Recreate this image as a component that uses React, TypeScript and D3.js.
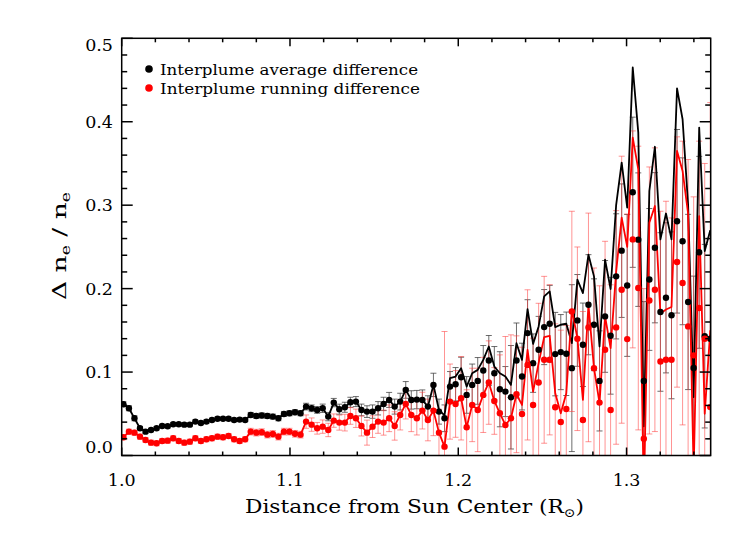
import React from 'react';
import * as d3 from 'd3';

// radial sampling grid (R_sun)
const X0 = 1.001;
const XSTEP = 0.00329;

const blackDot = [
  0.0615, 0.0566, 0.0446, 0.0326, 0.0286, 0.0306, 0.0326, 0.0354, 0.035, 0.0374,
  0.0374, 0.037, 0.037, 0.0406, 0.039, 0.0406, 0.0426, 0.044, 0.044, 0.044,
  0.0426, 0.043, 0.0426, 0.0486, 0.0474, 0.048, 0.0474, 0.0466, 0.0446, 0.0498,
  0.0506, 0.0518, 0.0506, 0.0586, 0.0566, 0.0546, 0.0566, 0.0466, 0.0634, 0.0555,
  0.0578, 0.0638, 0.0646, 0.0546, 0.0526, 0.0526, 0.0566, 0.0618, 0.0666, 0.0586,
  0.0646, 0.0786, 0.0666, 0.067, 0.0666, 0.0586, 0.0846, 0.0526, 0.0446, 0.0826,
  0.0854, 0.0938, 0.0726, 0.0846, 0.0894, 0.1018, 0.1138, 0.0986, 0.0794, 0.0766,
  0.0698, 0.1138, 0.0946, 0.1467, 0.1107, 0.1267, 0.1539, 0.1579, 0.1215, 0.1239,
  0.1219, 0.1047, 0.1619, 0.1327, 0.1807, 0.1567, 0.0894, 0.1667, 0.1435, 0.2147,
  0.2455, 0.2038, 0.3155, 0.2587, 0.0894, 0.211, 0.249, 0.172, 0.189, 0.168,
  0.2807, 0.2567, 0.184, 0.105, 0.2435, 0.143, 0.14,
];

const blackLine = [
  0.0615, 0.0566, 0.0446, 0.0326, 0.0286, 0.0306, 0.0326, 0.0354, 0.035, 0.0374,
  0.0374, 0.037, 0.037, 0.0406, 0.039, 0.0406, 0.0426, 0.044, 0.044, 0.044,
  0.0426, 0.043, 0.0426, 0.0486, 0.0474, 0.048, 0.0474, 0.0466, 0.0446, 0.0498,
  0.0506, 0.0518, 0.0506, 0.0586, 0.0566, 0.0546, 0.0566, 0.0466, 0.0634, 0.0555,
  0.0578, 0.0638, 0.0646, 0.0546, 0.0526, 0.0526, 0.0566, 0.0618, 0.0666, 0.0586,
  0.0646, 0.0786, 0.0666, 0.067, 0.0666, 0.0586, 0.0846, 0.0546, 0.048, 0.0926,
  0.0946, 0.1046, 0.0826, 0.0986, 0.1026, 0.1146, 0.1306, 0.1066, 0.0986, 0.0946,
  0.0846, 0.1346, 0.1146, 0.1755, 0.1338, 0.1547, 0.1907, 0.1967, 0.1539, 0.1567,
  0.1579, 0.1347, 0.2107, 0.1947, 0.2407, 0.2147, 0.1306, 0.2347, 0.1995, 0.30,
  0.351, 0.297, 0.465, 0.387, 0.035, 0.317, 0.37, 0.259, 0.29, 0.259,
  0.44, 0.403, 0.30, 0.07, 0.393, 0.245, 0.27,
];

const blackErr = [
  0.003, 0.003, 0.003, 0.002, 0.002, 0.002, 0.002, 0.002, 0.002, 0.002,
  0.002, 0.002, 0.002, 0.002, 0.002, 0.002, 0.002, 0.002, 0.002, 0.002,
  0.002, 0.002, 0.002, 0.003, 0.003, 0.003, 0.003, 0.003, 0.003, 0.003,
  0.003, 0.003, 0.003, 0.004, 0.004, 0.004, 0.005, 0.005, 0.005, 0.006,
  0.006, 0.006, 0.006, 0.007, 0.007, 0.008, 0.008, 0.008, 0.009, 0.009,
  0.010, 0.010, 0.011, 0.011, 0.012, 0.013, 0.014, 0.015, 0.016, 0.018,
  0.020, 0.024, 0.022, 0.025, 0.028, 0.030, 0.030, 0.032, 0.045, 0.030,
  0.062, 0.045, 0.040, 0.040, 0.035, 0.040, 0.045, 0.046, 0.050, 0.045,
  0.050, 0.100, 0.055, 0.050, 0.060, 0.055, 0.060, 0.067, 0.070, 0.075,
  0.080, 0.085, 0.090, 0.080, 0.095, 0.085, 0.090, 0.095, 0.090, 0.100,
  0.110, 0.100, 0.105, 0.110, 0.115, 0.110, 0.120,
];

const redDot = [
  0.0218, 0.0286, 0.0274, 0.0226, 0.0186, 0.0154, 0.0146, 0.0174, 0.0178, 0.0206,
  0.0174, 0.0154, 0.0166, 0.0206, 0.0174, 0.0194, 0.0206, 0.0226, 0.0218, 0.0234,
  0.0194, 0.0174, 0.0194, 0.0286, 0.0274, 0.028, 0.025, 0.0258, 0.0226, 0.0286,
  0.0286, 0.026, 0.025, 0.0406, 0.037, 0.0326, 0.0346, 0.0306, 0.0418, 0.0394,
  0.0394, 0.0474, 0.0446, 0.0354, 0.0274, 0.0346, 0.0406, 0.0394, 0.0446, 0.0354,
  0.0486, 0.0618, 0.0486, 0.0446, 0.0538, 0.0426, 0.0538, 0.0274, 0.0106, 0.0646,
  0.0618, 0.0686, 0.0338, 0.0606, 0.0546, 0.0726, 0.0874, 0.0654, 0.0506, 0.0366,
  0.0446, 0.0734, 0.0498, 0.1086, 0.0606, 0.0874, 0.1147, 0.1147, 0.0578, 0.0402,
  0.0558, 0.1727, 0.1399, 0.0426, 0.1535, 0.1047, 0.0634, 0.1267, 0.0546, 0.1535,
  0.1987, 0.1395, 0.259, 0.2007, 0.02, 0.1858, 0.1987, 0.1127, 0.1147, 0.1147,
  0.2319, 0.2067, 0.1547, 0.12, 0.1767, 0.14, 0.058,
];

const redLine = [
  0.0218, 0.0286, 0.0274, 0.0226, 0.0186, 0.0154, 0.0146, 0.0174, 0.0178, 0.0206,
  0.0174, 0.0154, 0.0166, 0.0206, 0.0174, 0.0194, 0.0206, 0.0226, 0.0218, 0.0234,
  0.0194, 0.0174, 0.0194, 0.0286, 0.0274, 0.028, 0.025, 0.0258, 0.0226, 0.0286,
  0.0286, 0.026, 0.025, 0.0406, 0.037, 0.0326, 0.0346, 0.0306, 0.0418, 0.0394,
  0.0394, 0.0474, 0.0446, 0.0354, 0.0274, 0.0346, 0.0406, 0.0394, 0.0446, 0.0354,
  0.0486, 0.0618, 0.0486, 0.0446, 0.0538, 0.0426, 0.0538, 0.0274, 0.0106, 0.0646,
  0.0618, 0.0686, 0.0338, 0.0606, 0.0546, 0.0726, 0.0874, 0.0654, 0.0506, 0.0366,
  0.0446, 0.0734, 0.0606, 0.1267, 0.0766, 0.1107, 0.1419, 0.1435, 0.0746, 0.0506,
  0.0746, 0.1747, 0.1407, 0.0666, 0.1807, 0.1047, 0.0627, 0.1667, 0.1287, 0.22,
  0.285, 0.25, 0.381, 0.343, -0.05, 0.279, 0.299, 0.17, 0.175, 0.178,
  0.365, 0.341, 0.29, -0.02, 0.287, 0.05, 0.15,
];

const redErr = [
  0.003, 0.003, 0.003, 0.003, 0.003, 0.003, 0.003, 0.003, 0.003, 0.003,
  0.003, 0.003, 0.003, 0.003, 0.003, 0.003, 0.003, 0.003, 0.003, 0.003,
  0.003, 0.003, 0.003, 0.004, 0.004, 0.004, 0.004, 0.004, 0.004, 0.004,
  0.004, 0.004, 0.004, 0.008, 0.008, 0.007, 0.008, 0.008, 0.008, 0.009,
  0.010, 0.010, 0.011, 0.012, 0.015, 0.013, 0.014, 0.015, 0.016, 0.017,
  0.018, 0.018, 0.020, 0.020, 0.022, 0.025, 0.030, 0.028, 0.138, 0.045,
  0.040, 0.050, 0.045, 0.044, 0.050, 0.045, 0.050, 0.040, 0.070, 0.106,
  0.100, 0.070, 0.080, 0.090, 0.080, 0.095, 0.100, 0.090, 0.100, 0.110,
  0.100, 0.120, 0.110, 0.130, 0.137, 0.120, 0.140, 0.130, 0.150, 0.140,
  0.160, 0.150, 0.130, 0.170, 0.180, 0.160, 0.170, 0.180, 0.190, 0.170,
  0.150, 0.170, 0.200, 0.190, 0.200, 0.210, 0.365,
];

const xTicks = [1.0, 1.1, 1.2, 1.3];
const yTicks = [0.0, 0.1, 0.2, 0.3, 0.4, 0.5];
const legendLabels = ['Interplume average difference', 'Interplume running difference'];

const W = 747, H = 534;
const L = 121.7, R = 710.7, T = 38.3, B = 455.5;
const FONT = '"DejaVu Serif", serif';

export default function App() {
  const x = d3.scaleLinear().domain([1.0, 1.35]).range([L, R]);
  const y = d3.scaleLinear().domain([0, 0.5]).range([B, T]);
  const xs = blackDot.map((_, i) => X0 + i * XSTEP);

  const line = d3.line<number>().x((_, i) => x(xs[i])).y((d) => y(d));

  const xMinor = d3.range(0, 18).map((k) => 1.0 + k * 0.02).filter((v) => v <= 1.3501);
  const yMinor = d3.range(0, 26).map((k) => k * 0.02);

  const errBars = (vals: number[], errs: number[], color: string, key: string) =>
    vals.map((v, i) => {
      const cx = x(xs[i]);
      const y1 = y(v - errs[i]);
      const y2 = y(v + errs[i]);
      return (
        <g key={key + i} stroke={color} strokeWidth={1}>
          <line x1={cx} x2={cx} y1={y1} y2={y2} />
          <line x1={cx - 3} x2={cx + 3} y1={y1} y2={y1} />
          <line x1={cx - 3} x2={cx + 3} y1={y2} y2={y2} />
        </g>
      );
    });

  const isMajorX = (v: number) => Math.abs(v * 10 - Math.round(v * 10)) < 1e-6;
  const isMajorY = (v: number) => Math.abs(v * 10 - Math.round(v * 10)) < 1e-6;

  return (
    <svg width={W} height={H} style={{ position: 'absolute', left: 0, top: 0, background: '#fff' }}>
      <defs>
        <clipPath id="plotclip">
          <rect x={L} y={T} width={R - L} height={B - T} />
        </clipPath>
      </defs>
      <rect x={0} y={0} width={W} height={H} fill="#fff" />

      <g clipPath="url(#plotclip)">
        {errBars(blackDot, blackErr, 'rgba(60,60,60,0.75)', 'be')}
        {errBars(redDot, redErr, 'rgba(255,60,60,0.55)', 're')}
        <path d={line(blackLine) || ''} fill="none" stroke="#000" strokeWidth={1.8} strokeLinejoin="round" />
        <path d={line(redLine) || ''} fill="none" stroke="#ff0000" strokeWidth={1.8} strokeLinejoin="round" />
        {blackDot.map((v, i) => (
          <circle key={'bd' + i} cx={x(xs[i])} cy={y(v)} r={3.2} fill="#000" />
        ))}
        {redDot.map((v, i) => (
          <circle key={'rd' + i} cx={x(xs[i])} cy={y(v)} r={3.2} fill="#ff0000" />
        ))}
      </g>

      {/* axes box */}
      <rect x={L} y={T} width={R - L} height={B - T} fill="none" stroke="#000" strokeWidth={1.5} />

      {/* x ticks bottom & top */}
      {xMinor.map((v, i) => {
        const len = isMajorX(v) ? 8 : 4;
        const px = x(v);
        return (
          <g key={'xt' + i} stroke="#000" strokeWidth={1.5}>
            <line x1={px} x2={px} y1={B} y2={B - len} />
            <line x1={px} x2={px} y1={T} y2={T + len} />
          </g>
        );
      })}
      {/* y ticks left & right */}
      {yMinor.map((v, i) => {
        const len = isMajorY(v) ? 11 : 5.5;
        const py = y(v);
        return (
          <g key={'yt' + i} stroke="#000" strokeWidth={1.5}>
            <line x1={L} x2={L + len} y1={py} y2={py} />
            <line x1={R} x2={R - len} y1={py} y2={py} />
          </g>
        );
      })}

      {/* tick labels */}
      {xTicks.map((v) => (
        <text key={'xl' + v} x={x(v)} y={486} textAnchor="middle" fontFamily={FONT} fontSize={17.5} fill="#000">
          {v.toFixed(1)}
        </text>
      ))}
      {yTicks.map((v) => {
        const by = Math.min(453, Math.max(51, y(v) + 6));
        return (
          <text key={'yl' + v} x={113} y={by} textAnchor="end" fontFamily={FONT} fontSize={17.5} fill="#000">
            {v.toFixed(1)}
          </text>
        );
      })}

      {/* axis titles */}
      <text x={245} y={513} fontFamily={FONT} fontSize={18.5} fill="#000" textLength={339} lengthAdjust="spacingAndGlyphs">
        Distance from Sun Center (R<tspan fontSize={12} dy={4}>⊙</tspan><tspan dy={-4}>)</tspan>
      </text>
      <text transform={`translate(66,${300}) rotate(-90)`} fontFamily={FONT} fontSize={18.5} fill="#000" textLength={108} lengthAdjust="spacingAndGlyphs">
        Δ n<tspan fontSize={12} dy={4}>e</tspan><tspan dy={-4}> / n</tspan><tspan fontSize={12} dy={4}>e</tspan>
      </text>

      {/* legend */}
      <circle cx={149} cy={69} r={3.8} fill="#000" />
      <text x={160} y={74.5} fontFamily={FONT} fontSize={15} fill="#000" textLength={258} lengthAdjust="spacingAndGlyphs">
        {legendLabels[0]}
      </text>
      <circle cx={149} cy={88} r={3.8} fill="#ff0000" />
      <text x={160} y={93.5} fontFamily={FONT} fontSize={15} fill="#000" textLength={260} lengthAdjust="spacingAndGlyphs">
        {legendLabels[1]}
      </text>
    </svg>
  );
}
